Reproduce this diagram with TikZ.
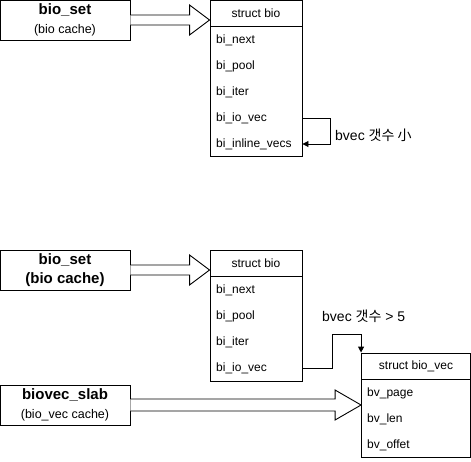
\documentclass[tikz,border=0pt]{standalone}
\usepackage{fontspec}
\setmainfont{Liberation Sans}
\newfontfamily\krfont{Noto Sans CJK KR}
\usetikzlibrary{arrows.meta,positioning,calc}

\tikzset{
  cache/.style={draw, line width=0.9pt, minimum width=130pt, minimum height=40pt, inner sep=0pt, align=center, font=\fontsize{13}{19}\selectfont},
  head/.style={draw, line width=0.9pt, minimum width=92pt, minimum height=26pt, inner sep=0pt, font=\fontsize{12}{14}\selectfont},
  body/.style={draw, line width=0.9pt, minimum width=92pt, inner sep=0pt},
  field/.style={anchor=west, inner sep=0pt, font=\fontsize{12}{14}\selectfont},
  note/.style={anchor=west, inner sep=0pt, font=\fontsize{14}{16}\selectfont},
  conn/.style={line width=0.9pt, -{Triangle[length=6pt,width=6pt]}},
  fat/.style={draw, line width=0.9pt, fill=white, line join=miter},
}
\newcommand{\cachename}[1]{{\fontsize{15}{17}\selectfont\bfseries #1}}
\newcommand{\cachesub}[1]{{\fontsize{12.5}{15}\selectfont #1}}

\begin{document}
\begin{tikzpicture}[x=1pt,y=-1pt]
  \useasboundingbox (0,0) rectangle (471,461);

  % upper picture: few bvecs, inline
  \node[cache] (set1) at (65,20) {\cachename{bio\_set}\\\cachesub{(bio cache)}};
  \node[head] (bio1h) at (256,13) {struct bio};
  \node[body, minimum height=130pt, below=0pt of bio1h] (bio1b) {};
  \node[field] (b1next) at (216,40) {bi\_next};
  \node[field] (b1pool) at (216,66) {bi\_pool};
  \node[field] (b1iter) at (216,92) {bi\_iter};
  \node[field] (b1iov) at (216,118) {bi\_io\_vec};
  \node[field] (b1inl) at (216,144) {bi\_inline\_vecs};

  \draw[fat] ($(set1.east)+(0,-5)$) -- ($(set1.east -| bio1h.west)+(-20,-5)$)
    -- ($(set1.east -| bio1h.west)+(-20,-15)$) -- (set1.east -| bio1h.west)
    -- ($(set1.east -| bio1h.west)+(-20,15)$) -- ($(set1.east -| bio1h.west)+(-20,5)$)
    -- ($(set1.east)+(0,5)$);
  \draw[conn] (b1iov -| bio1b.east) -- ++(28,0) |- (b1inl -| bio1b.east);
  \node[note] (lbl1) at (335,135) {bvec {\krfont 갯수 小}};

  % lower picture: many bvecs, from biovec_slab
  \node[cache] (set2) at (65,270) {\cachename{bio\_set}\\\cachename{(bio cache)}};
  \node[head] (bio2h) at (256,263) {struct bio};
  \node[body, minimum height=105pt, below=0pt of bio2h] (bio2b) {};
  \node[field] (b2next) at (216,290) {bi\_next};
  \node[field] (b2pool) at (216,316) {bi\_pool};
  \node[field] (b2iter) at (216,342) {bi\_iter};
  \node[field] (b2iov) at (216,368) {bi\_io\_vec};

  \node[cache] (slab) at (65,405) {\cachename{biovec\_slab}\\\cachesub{(bio\_vec cache)}};
  \node[head, minimum width=109pt] (vech) at (416,366) {struct bio\_vec};
  \node[body, minimum width=109pt, minimum height=78pt, below=0pt of vech] (vecb) {};
  \node[field] (vpage) at (367,393) {bv\_page};
  \node[field] (vlen) at (367,419) {bv\_len};
  \node[field] (voff) at (367,445) {bv\_offet};

  \draw[fat] ($(set2.east)+(0,-5)$) -- ($(set2.east -| bio2h.west)+(-20,-5)$)
    -- ($(set2.east -| bio2h.west)+(-20,-15)$) -- (set2.east -| bio2h.west)
    -- ($(set2.east -| bio2h.west)+(-20,15)$) -- ($(set2.east -| bio2h.west)+(-20,5)$)
    -- ($(set2.east)+(0,5)$);
  \draw[fat] ($(slab.east)+(0,-6)$) -- ($(slab.east -| vecb.west)+(-26,-6)$)
    -- ($(slab.east -| vecb.west)+(-26,-15)$) -- (slab.east -| vecb.west)
    -- ($(slab.east -| vecb.west)+(-26,15)$) -- ($(slab.east -| vecb.west)+(-26,6)$)
    -- ($(slab.east)+(0,6)$);
  \draw[conn] (b2iov -| bio2b.east) -- ++(30,0) -- ++(0,-34) -| (vech.north west);
  \node[note] (lbl2) at (322,316) {bvec {\krfont 갯수} > 5};
\end{tikzpicture}
\end{document}
